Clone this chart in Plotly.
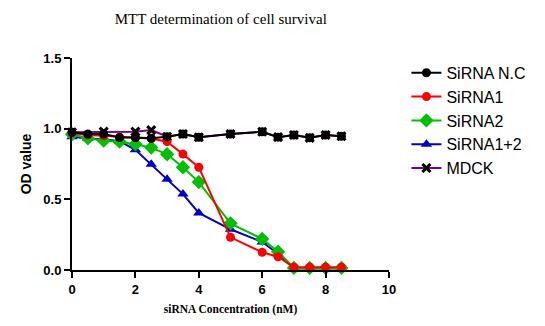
import plotly.graph_objects as go

x_conc = [0, 0.5, 1, 1.5, 2, 2.5, 3, 3.5, 4, 5, 6, 6.5, 7, 7.5, 8, 8.5]
sirna_nc = [0.975, 0.962, 0.962, 0.937, 0.937, 0.932, 0.943, 0.962, 0.939, 0.962, 0.978, 0.940, 0.955, 0.935, 0.955, 0.946]
sirna1 = [0.970, 0.955, 0.950, 0.940, 0.935, 0.930, 0.908, 0.820, 0.727, 0.231, 0.125, 0.094, 0.020, 0.020, 0.020, 0.020]
sirna2 = [0.960, 0.932, 0.915, 0.908, 0.890, 0.866, 0.819, 0.727, 0.622, 0.330, 0.220, 0.130, 0.015, 0.015, 0.015, 0.015]
sirna12 = [0.943, 0.930, 0.925, 0.912, 0.850, 0.748, 0.642, 0.537, 0.404, 0.288, 0.198, 0.115, 0.010, 0.010, 0.010, 0.010]
mdck_x = [0, 1, 2, 2.5, 3, 3.5, 4, 5, 6, 6.5, 7, 7.5, 8, 8.5]
mdck = [0.975, 0.979, 0.979, 0.990, 0.943, 0.962, 0.939, 0.962, 0.978, 0.940, 0.955, 0.935, 0.955, 0.946]

series = [
    ("SiRNA N.C", x_conc, sirna_nc, "#000000", "circle", 9),
    ("SiRNA1", x_conc, sirna1, "#ff0000", "circle", 9),
    ("SiRNA2", x_conc, sirna2, "#00c000", "diamond", 11),
    ("SiRNA1+2", x_conc, sirna12, "#0000c8", "triangle-up", 10),
    ("MDCK", mdck_x, mdck, "#800080", "x-thin", 8),
]

fig = go.Figure()
order = [4, 3, 2, 1, 0]
for i in order:
    name, xs, ys, col, sym, sz = series[i]
    mk = dict(symbol=sym, size=sz, color=col)
    if name == "MDCK":
        mk = dict(symbol="x-thin", size=8, color="#000000", line=dict(width=3, color="#000000"))
    fig.add_trace(go.Scatter(x=xs, y=ys, name=name, mode="lines+markers",
                             line=dict(color=col, width=2), marker=mk,
                             cliponaxis=False, legendrank=i + 1))

fig.update_layout(
    width=545, height=326,
    margin=dict(l=72, r=156, t=58, b=56),
    paper_bgcolor="white", plot_bgcolor="white",
    title=dict(text="MTT determination of cell survival", x=0.405, xanchor="center",
               y=0.942, yanchor="middle",
               font=dict(family="Liberation Serif", size=15, color="#000")),
    legend=dict(x=1.055, y=1.01, xanchor="left", yanchor="top",
                font=dict(family="Liberation Sans", size=16, color="#000"),
                tracegroupgap=0, itemwidth=30, traceorder="normal"),
    xaxis=dict(range=[0, 10], tickvals=[0, 2, 4, 6, 8, 10], showline=True,
               linecolor="#000", linewidth=2, ticks="outside", ticklen=6, tickwidth=2,
               tickcolor="#000", showgrid=False, zeroline=False,
               tickfont=dict(family="Liberation Sans", size=13, color="#000", weight="bold"),
               title=dict(text="siRNA Concentration (nM)", standoff=9,
                          font=dict(family="Liberation Serif", size=11.5, color="#000", weight="bold"))),
    yaxis=dict(range=[0, 1.5], tickvals=[0, 0.5, 1.0, 1.5], tickformat=".1f", showline=True,
               linecolor="#000", linewidth=2, ticks="outside", ticklen=6, tickwidth=2,
               tickcolor="#000", showgrid=False, zeroline=False,
               tickfont=dict(family="Liberation Sans", size=13, color="#000", weight="bold"),
               title=dict(text="OD value", standoff=8,
                          font=dict(family="Liberation Sans", size=14, color="#000", weight="bold"))),
)

fig.write_html("out.html")
